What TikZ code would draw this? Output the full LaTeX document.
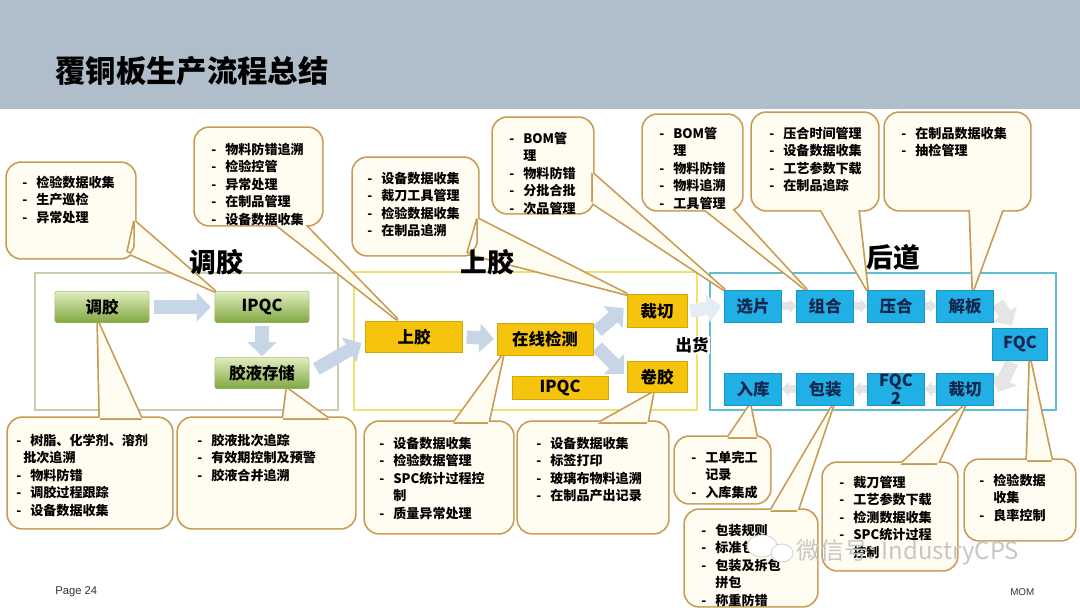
\documentclass[tikz,border=0pt]{standalone}
\usepackage{fontspec}
\setmainfont{Noto Sans CJK SC}
\newfontfamily\lsans{Liberation Sans}
\usetikzlibrary{arrows.meta,calc}
\definecolor{hdr}{RGB}{176,190,204}
\definecolor{cfill}{RGB}{255,253,241}
\definecolor{cline}{RGB}{200,155,85}
\definecolor{gtop}{RGB}{224,237,190}
\definecolor{gbot}{RGB}{128,168,66}
\definecolor{ynode}{RGB}{246,196,12}
\definecolor{bnode}{RGB}{32,176,230}
\definecolor{btext}{RGB}{18,38,78}
\definecolor{arr}{RGB}{198,214,230}
\definecolor{sboxa}{RGB}{200,206,172}
\definecolor{sboxb}{RGB}{236,226,110}
\definecolor{sboxc}{RGB}{96,190,212}
\newcommand\itm[1]{\makebox[10pt][l]{-}#1}
\newcommand\cnt[1]{\hspace*{10pt}#1}
\newcommand\callout[5]{%
  \draw[cline, line width=2.4pt, line join=round] #3 -- #5 -- #4 -- cycle [rounded corners=10pt] #1 rectangle #2;
  \fill[cfill] #3 -- #5 -- #4 -- cycle [rounded corners=10pt] #1 rectangle #2;}
\begin{document}
\begin{tikzpicture}[x=0.025cm,y=-0.025cm,
  nfont/.style={font=\fontsize{11.7}{13}\selectfont\bfseries},
  gnode/.style={nfont, rectangle, rounded corners=1.5pt, top color=gtop, bottom color=gbot, draw=gbot!80!white, line width=0.3pt, minimum width=2.35cm, minimum height=0.775cm, inner sep=0pt},
  ynode/.style={nfont, rectangle, fill=ynode, draw=ynode!85!black, line width=0.3pt, minimum width=2.4cm, minimum height=0.8cm, inner sep=0pt},
  bnode/.style={nfont, text=btext, rectangle, fill=bnode, draw=bnode!85!black, line width=0.3pt, minimum width=1.425cm, minimum height=0.8cm, inner sep=0pt, align=center},
  ctext/.style={anchor=north west, align=left, inner sep=0pt, font=\fontsize{9.3}{12.5}\selectfont\bfseries},
  slabel/.style={font=\fontsize{19}{21}\selectfont\bfseries},
  fat/.style={draw=arr, line width=9.5pt, -{Triangle[length=10pt,width=20pt]}},
  sarr/.style={draw=gray!22, line width=5pt, -{Triangle[length=5pt,width=10pt]}}
]
\useasboundingbox (0,0) rectangle (1080,607);
\fill[white] (0,0) rectangle (1080,607);
% header
\fill[hdr] (0,0) rectangle (1080,109);
\node[anchor=west, inner sep=0pt, font=\fontsize{21.6}{24}\selectfont\bfseries] (title) at (55,71) {覆铜板生产流程总结};

% section boxes
\draw[sboxa, line width=1.4pt] (35,273) rectangle (338,410);
\draw[sboxb, line width=1.6pt] (354,272) rectangle (697,410);
\draw[sboxc, line width=1.8pt] (710,273) rectangle (1056,410);

% nodes (placed first so that callouts can point at them; drawn again on top later)
\path
  (102,307) node[gnode] (g1) {调胶}
  (262,307) node[gnode] (g2) {IPQC}
  (262,373) node[gnode] (g3) {胶液存储}
  (414,337) node[ynode, minimum width=2.425cm, minimum height=0.775cm] (y1) {上胶}
  (545,339) node[ynode] (y2) {在线检测}
  (657,311) node[ynode, minimum width=1.5cm, minimum height=0.825cm] (y3) {裁切}
  (657,377) node[ynode, minimum width=1.5cm, minimum height=0.775cm] (y4) {卷胶}
  (560,388) node[ynode, minimum height=0.575cm] (y5) {IPQC}
  (753,306) node[bnode] (b1) {选片}
  (825,306) node[bnode] (b2) {组合}
  (896,306) node[bnode] (b3) {压合}
  (965,306) node[bnode] (b4) {解板}
  (1020,344) node[bnode, minimum width=1.375cm] (fqc) {FQC}
  (753,389) node[bnode] (b5) {入库}
  (825,389) node[bnode] (b6) {包装}
  (896,389) node[bnode, font=\fontsize{11.7}{12.5}\selectfont\bfseries] (b7) {FQC\\2}
  (965,389) node[bnode] (b8) {裁切};

% callouts
\callout{(7,163)}{(135,258)}{(133,220)}{(126,252)}{(g2.north west)}
\callout{(195,128)}{(322,225)}{(273,222)}{(302,222)}{($(y1.north)+(-17,-2)$)}
\callout{(353,158)}{(478,255)}{(476,218)}{(466,253)}{(y3.north west)}
\callout{(493,118)}{(593,213)}{(591,172)}{(591,202)}{(b1.north west)}
\callout{(643,115)}{(742,210)}{(703,208)}{(731,208)}{($(b2.north west)+(10,0)$)}
\callout{(752,113)}{(878,210)}{(820,208)}{(858,208)}{(b3.north west)}
\callout{(885,113)}{(1030,210)}{(970,208)}{(1003,208)}{($(b4.north)+(8,0)$)}
\callout{(8,418)}{(172,528)}{(100,420)}{(142,420)}{($(g1.south)+(-4,0)$)}
\callout{(178,418)}{(355,528)}{(283,420)}{(330,420)}{($(g3.south)+(25,0)$)}
\callout{(365,422)}{(513,533)}{(453,424)}{(488,424)}{($(y2.south)+(-42,0)$)}
\callout{(518,422)}{(668,533)}{(597,424)}{(647,424)}{($(y4.south)+(-4,0)$)}
\callout{(675,437)}{(770,503)}{(727,439)}{(757,439)}{($(b5.south)+(-3,0)$)}
\callout{(685,510)}{(817,606)}{(770,512)}{(797,512)}{($(b6.south)+(8,0)$)}
\callout{(823,463)}{(957,570)}{(900,465)}{(937,465)}{(b8.south)}
\callout{(965,460)}{(1075,540)}{(1027,462)}{(1052,462)}{($(fqc.south)+(10,0)$)}

% section labels (above the callout pointers)
\node[slabel] (lab1) at (216,262) {调胶};
\node[slabel] (lab2) at (487,262) {上胶};
\node[slabel] (lab3) at (893,257) {后道};

% callout texts
\node[ctext] (t1) at (22,175.5) {\itm{检验数据收集}\\\itm{生产巡检}\\\itm{异常处理}};
\node[ctext] (t2) at (211,142.5) {\itm{物料防错追溯}\\\itm{检验控管}\\\itm{异常处理}\\\itm{在制品管理}\\\itm{设备数据收集}};
\node[ctext] (t3) at (367,171.5) {\itm{设备数据收集}\\\itm{裁刀工具管理}\\\itm{检验数据收集}\\\itm{在制品追溯}};
\node[ctext] (t4) at (509,131.5) {\itm{BOM管}\\\cnt{理}\\\itm{物料防错}\\\itm{分批合批}\\\itm{次品管理}};
\node[ctext] (t5) at (659,126.5) {\itm{BOM管}\\\cnt{理}\\\itm{物料防错}\\\itm{物料追溯}\\\itm{工具管理}};
\node[ctext] (t6) at (769,126.5) {\itm{压合时间管理}\\\itm{设备数据收集}\\\itm{工艺参数下载}\\\itm{在制品追踪}};
\node[ctext] (t7) at (901,126.5) {\itm{在制品数据收集}\\\itm{抽检管理}};
\node[ctext] (t8) at (16,433.5) {\itm{树脂、化学剂、溶剂}\\\hspace*{5pt}批次追溯\\\itm{物料防错}\\\itm{调胶过程跟踪}\\\itm{设备数据收集}};
\node[ctext] (t9) at (197,433.5) {\itm{胶液批次追踪}\\\itm{有效期控制及预警}\\\itm{胶液合并追溯}};
\node[ctext] (t10) at (379,436.5) {\itm{设备数据收集}\\\itm{检验数据管理}\\\itm{SPC统计过程控}\\\cnt{制}\\\itm{质量异常处理}};
\node[ctext] (t11) at (536,436.5) {\itm{设备数据收集}\\\itm{标签打印}\\\itm{玻璃布物料追溯}\\\itm{在制品产出记录}};
\node[ctext] (t12) at (691,450.5) {\itm{工单完工}\\\cnt{记录}\\\itm{入库集成}};
\node[ctext] (t13) at (701,523.5) {\itm{包装规则}\\\itm{标准包装}\\\itm{包装及拆包}\\\cnt{拼包}\\\itm{称重防错}};
\node[ctext] (t14) at (839,475.5) {\itm{裁刀管理}\\\itm{工艺参数下载}\\\itm{检测数据收集}\\\itm{SPC统计过程}\\\cnt{控制}};
\node[ctext] (t15) at (979,473.5) {\itm{检验数据}\\\cnt{收集}\\\itm{良率控制}};

% fat arrows
\draw[fat] ($(g1.east)+(5,0)$) -- ($(g2.west)+(-4,0)$);
\draw[fat] ($(g2.south)+(0,3)$) -- ($(g3.north)+(0,-1)$);
\draw[fat] ($(g3.east)+(7,-4)$) -- ($(y1.west)+(-4,6)$);
\draw[fat] ($(y1.east)+(4,0)$) -- ($(y2.west)+(-3,0)$);
\draw[fat] ($(y2.east)+(4,-8)$) -- ($(y3.west)+(-3,-3)$);
\draw[fat] ($(y2.east)+(4,8)$) -- ($(y4.west)+(-3,-3)$);
\draw[fat, draw=arr!45] ($(y3.east)+(3,0)$) -- ($(b1.west)+(-3,0)$);
\draw[fat, draw=gray!20] ($(b4.east)+(4,-3)$) -- ($(fqc.north)+(-8,-2)$);
\draw[fat, draw=gray!20] ($(fqc.south)+(-8,2)$) -- ($(b8.east)+(4,3)$);
\draw[sarr] (b1.east) -- (b2.west);
\draw[sarr] (b2.east) -- (b3.west);
\draw[sarr] (b3.east) -- (b4.west);
\draw[sarr] (b8.west) -- (b7.east);
\draw[sarr] (b7.west) -- (b6.east);
\draw[sarr] (b6.west) -- (b5.east);

% nodes drawn on top
\path
  (102,307) node[gnode] {调胶}
  (262,307) node[gnode] {IPQC}
  (262,373) node[gnode] {胶液存储}
  (414,337) node[ynode, minimum width=2.425cm, minimum height=0.775cm] {上胶}
  (545,339) node[ynode] {在线检测}
  (657,311) node[ynode, minimum width=1.5cm, minimum height=0.825cm] {裁切}
  (657,377) node[ynode, minimum width=1.5cm, minimum height=0.775cm] {卷胶}
  (560,388) node[ynode, minimum height=0.575cm] {IPQC}
  (753,306) node[bnode] {选片}
  (825,306) node[bnode] {组合}
  (896,306) node[bnode] {压合}
  (965,306) node[bnode] {解板}
  (1020,344) node[bnode, minimum width=1.375cm] {FQC}
  (753,389) node[bnode] {入库}
  (825,389) node[bnode] {包装}
  (896,389) node[bnode, font=\fontsize{11.7}{12.5}\selectfont\bfseries] {FQC\\2}
  (965,389) node[bnode] {裁切};

\node[nfont, fill=white, inner sep=1pt] (ship) at (692,345) {出货};

% footer
\node[anchor=west, inner sep=0pt, font=\lsans\fontsize{8}{9}\selectfont, text=black!80] (pg) at (55,592) {Page 24};
\node[anchor=west, inner sep=0pt, font=\lsans\fontsize{7}{8}\selectfont, text=black!80] (mom) at (1010,592) {MOM};

% watermark
\fill[white, draw=gray!35, line width=0.6pt] (762,546) ellipse [x radius=15, y radius=11];
\fill[white, draw=gray!35, line width=0.6pt] (782,553) ellipse [x radius=11, y radius=9];
\node[anchor=west, inner sep=0pt, font=\fontsize{17}{19}\selectfont, text=gray!45] (wm) at (796,552) {微信号: IndustryCPS};
\end{tikzpicture}
\end{document}
